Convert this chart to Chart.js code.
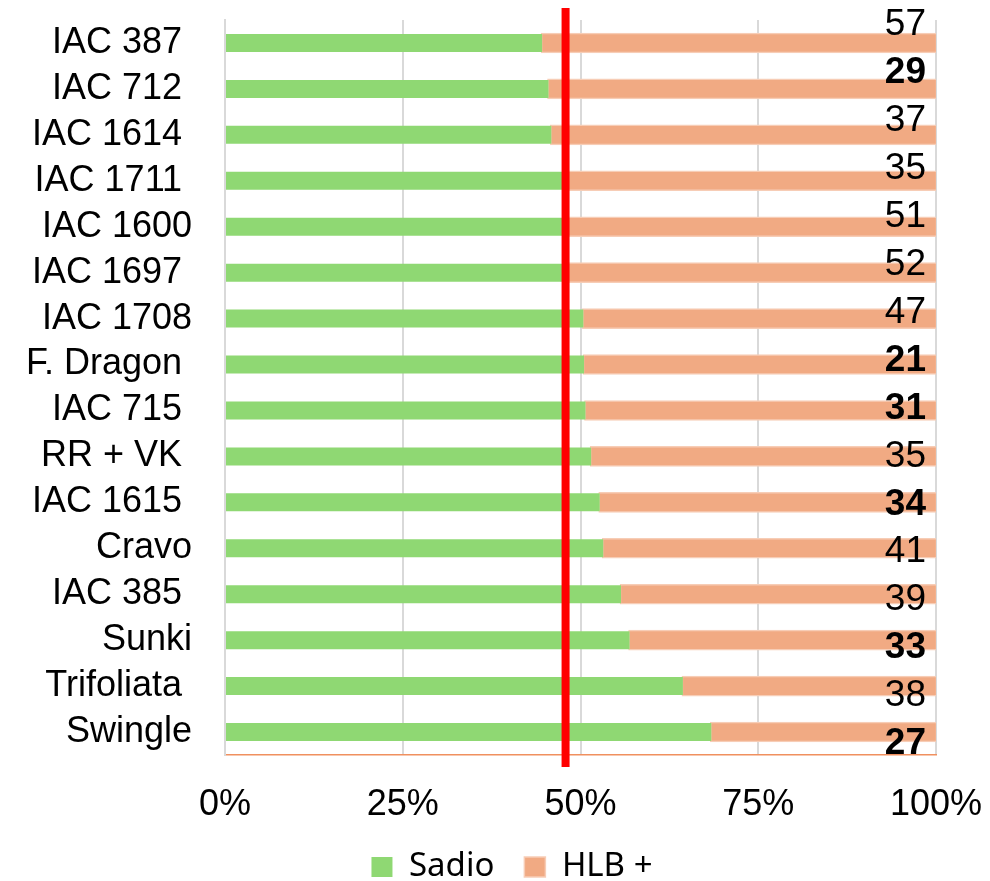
<!DOCTYPE html>
<html>
<head>
<meta charset="utf-8">
<script src="https://cdn.jsdelivr.net/npm/chart.js@4"></script>
<style>
  html, body { margin: 0; padding: 0; background: #fff; }
  #wrap { width: 990px; height: 881px; }
</style>
</head>
<body>
<div id="wrap"><canvas id="hlbChart"></canvas></div>
<script>
// Rootstock labels (trailing spaces kept as in the source sheet)
const categories = ['IAC 387 ', 'IAC 712 ', 'IAC 1614 ', 'IAC 1711 ', 'IAC 1600', 'IAC 1697 ', 'IAC 1708',
	'F. Dragon ', 'IAC 715 ', 'RR + VK ', 'IAC 1615 ', 'Cravo', 'IAC 385 ', 'Sunki', 'Trifoliata ', 'Swingle']

// % of plants in each group
const sadio = [44.6, 45.5, 45.9, 47.6, 47.9, 48.2, 50.4, 50.5, 50.7, 51.5, 52.7, 53.2, 55.7, 56.9, 64.4, 68.4]
const hlb = [55.4, 54.5, 54.1, 52.4, 52.1, 51.8, 49.6, 49.5, 49.3, 48.5, 47.3, 46.8, 44.3, 43.1, 35.6, 31.6]

// n per rootstock, shown on the right; some printed bold
const counts = [57, 29, 37, 35, 51, 52, 47, 21, 31, 35, 34, 41, 39, 33, 38, 27]
const countBold = [false, true, false, false, false, false, false, true, true, false, true, false, false, true, false, true]

// red reference line (%)
const refLine = 47.9

const xTicks = [0, 25, 50, 75, 100]

const FONT = "'Liberation Sans', Arial, sans-serif"

const overlay = {
	id: 'overlay',
	afterLayout(chart) {
		// legend sits a bit right of the canvas centre
		chart.legend.left += 44
		chart.legend.right += 44
	},
	afterDatasetsDraw(chart) {
		const { ctx, chartArea, scales } = chart
		const x = scales.x
		const y = scales.y
		ctx.save()
		// red line
		const lx = x.getPixelForValue(refLine)
		ctx.strokeStyle = '#FF0000'
		ctx.lineWidth = 8
		ctx.beginPath()
		ctx.moveTo(lx, chartArea.top - 12)
		ctx.lineTo(lx, chartArea.bottom + 12)
		ctx.stroke()

		// counts column (spread slightly wider than the bars)
		const first = y.getPixelForValue(0)
		const last = y.getPixelForValue(categories.length - 1)
		const mid = (first + last) / 2
		const spread = 48 / 46
		ctx.fillStyle = '#000'
		ctx.textAlign = 'right'
		ctx.textBaseline = 'middle'
		counts.forEach((n, i) => {
			const by = y.getPixelForValue(i)
			const ty = mid - 3 + (by - mid) * spread
			ctx.font = (countBold[i] ? 'bold ' : '') + '37px ' + FONT
			ctx.fillText(String(n), x.getPixelForValue(100) - 10, ty)
		})
		ctx.restore()
	},
}

const noPad = (scale) => {
	scale.paddingTop = 0
	scale.paddingBottom = 0
	scale.paddingLeft = 0
	scale.paddingRight = 0
}

const ctx = document.getElementById('hlbChart').getContext('2d')
const hlbChart = new Chart(ctx, {
	type: 'bar',
	data: {
		labels: categories,
		datasets: [
			{
				label: 'Sadio',
				data: sadio,
				backgroundColor: '#8FD873',
				borderWidth: 0,
				categoryPercentage: 0.8,
				barPercentage: 0.49,
			},
			{
				label: 'HLB +',
				data: hlb,
				backgroundColor: '#F1AA83',
				borderColor: '#F7CDB6',
				borderWidth: 1.5,
				borderSkipped: false,
				inflateAmount: 1.3,
				categoryPercentage: 0.8,
				barPercentage: 0.49,
			},
		],
	},
	options: {
		indexAxis: 'y',
		responsive: true,
		maintainAspectRatio: false,
		animation: false,
		layout: {
			padding: { left: 0, right: 54, top: 20, bottom: -12.5 },
		},
		scales: {
			x: {
				stacked: true,
				min: 0,
				max: 100,
				afterBuildTicks: (scale) => {
					scale.ticks = xTicks.map((v) => ({ value: v }))
				},
				afterFit: (scale) => {
					scale.height = 65.5
					noPad(scale)
				},
				grid: { color: '#D9D9D9', lineWidth: 2, drawTicks: false },
				border: { color: '#F0905F', width: 1.5 },
				ticks: {
					padding: 28,
					maxRotation: 0,
					autoSkip: false,
					color: '#000',
					font: { size: 36, family: FONT },
					callback: (v) => v + '%',
				},
			},
			y: {
				stacked: true,
				afterFit: (scale) => {
					scale.width = 225
					noPad(scale)
				},
				grid: { display: false, drawTicks: false },
				border: { color: '#D9D9D9', width: 2 },
				ticks: {
					padding: 33,
					autoSkip: false,
					color: '#000',
					font: { size: 36, family: FONT },
				},
			},
		},
		plugins: {
			legend: {
				display: true,
				position: 'bottom',
				labels: {
					boxWidth: 21,
					boxHeight: 20,
					padding: 30,
					color: '#000',
					font: { size: 33, family: "'Noto Sans', sans-serif" },
				},
			},
			tooltip: { enabled: false },
		},
	},
	plugins: [overlay],
})
</script>
</body>
</html>
